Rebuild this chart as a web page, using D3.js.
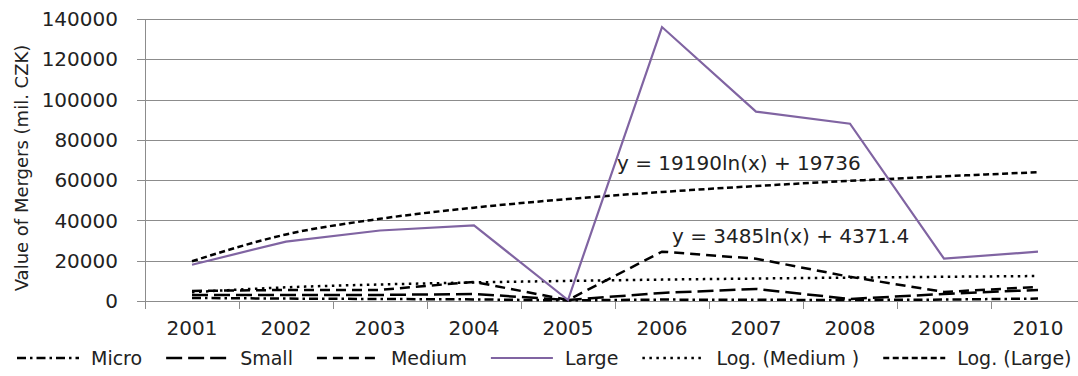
<!DOCTYPE html>
<html><head><meta charset="utf-8">
<script src="https://cdn.jsdelivr.net/npm/d3@7"></script>
<style>
html,body{margin:0;padding:0;background:#fff;}
svg{display:block;font-family:"DejaVu Sans",sans-serif;}
</style></head>
<body><svg id="c" width="1078" height="376"></svg>
<script>
const years = ["2001","2002","2003","2004","2005","2006","2007","2008","2009","2010"];
const micro  = [1500, 1200, 1000, 800, 300, 700, 600, 500, 700, 1200];
const small  = [3000, 3000, 3000, 3500, 500, 4000, 6000, 1000, 3500, 5500];
const medium = [5000, 5500, 5500, 9500, 500, 24500, 21000, 12000, 4500, 7000];
const large  = [18000, 29500, 35000, 37500, 500, 136000, 94000, 88000, 21000, 24500];
const logMedium = [4371, 6787, 8200, 9203, 9980, 10616, 11153, 11618, 12029, 12396];
const logLarge  = [19736, 33037, 40818, 46339, 50621, 54120, 57078, 59641, 61901, 63922];
const yTicks = [0, 20000, 40000, 60000, 80000, 100000, 120000, 140000];
const eqLarge = "y = 19190ln(x) + 19736";
const eqMedium = "y = 3485ln(x) + 4371.4";
const yTitle = "Value of Mergers (mil. CZK)";

const svg = d3.select("#c");
const L = 145, R = 1085, T = 19, B = 301;
const x = d3.scaleBand().domain(years).range([L, R]);
const y = d3.scaleLinear().domain([0, 140000]).range([B, T]);
const grid = "#8c8c8c";
const ink = "#222";

// gridlines
svg.append("g").selectAll("line").data(yTicks).join("line")
  .attr("x1", L - 8).attr("x2", 1078)
  .attr("y1", d => Math.round(y(d)) + 0.5).attr("y2", d => Math.round(y(d)) + 0.5)
  .attr("stroke", grid).attr("stroke-width", 1);
// y axis line
svg.append("line").attr("x1", L + 0.5).attr("x2", L + 0.5).attr("y1", T).attr("y2", B + 0.5)
  .attr("stroke", grid);
// x ticks at band edges
const edges = years.map(d => x(d));
svg.append("g").selectAll("line").data(edges).join("line")
  .attr("x1", d => Math.round(d) + 0.5).attr("x2", d => Math.round(d) + 0.5)
  .attr("y1", B).attr("y2", B + 8).attr("stroke", grid);

// y tick labels
svg.append("g").selectAll("text").data(yTicks).join("text")
  .attr("x", 118).attr("y", d => y(d)).attr("dy", "0.36em")
  .attr("text-anchor", "end").attr("font-size", 20).attr("fill", ink)
  .text(d => d);
// x labels
svg.append("g").selectAll("text").data(years).join("text")
  .attr("x", d => x(d) + x.bandwidth() / 2).attr("y", 328).attr("dy", "0.36em")
  .attr("text-anchor", "middle").attr("font-size", 20).attr("fill", ink)
  .text(d => d);
// y title
svg.append("text").attr("transform", "translate(22,168) rotate(-90)")
  .attr("text-anchor", "middle").attr("dy", "0.36em").attr("font-size", 18).attr("fill", ink)
  .text(yTitle);

const cx = (d, i) => x(years[i]) + x.bandwidth() / 2;
const straight = d3.line().x(cx).y(d => y(d));
const smooth = d3.line().x(cx).y(d => y(d)).curve(d3.curveMonotoneX);

const series = [
  {name: "Micro", data: micro, color: "#000", w: 2.5, dash: "9,4,2.5,4", gen: straight},
  {name: "Small", data: small, color: "#000", w: 2.5, dash: "16,6", gen: straight},
  {name: "Medium", data: medium, color: "#000", w: 2.5, dash: "10,6", gen: straight},
  {name: "Large", data: large, color: "#8064A2", w: 2.2, dash: null, gen: straight},
  {name: "Log. (Medium )", data: logMedium, color: "#000", w: 2.5, dash: "2.5,4.5", gen: smooth},
  {name: "Log. (Large)", data: logLarge, color: "#000", w: 2.5, dash: "6,3.5", gen: smooth}
];
const drawOrder = [4, 5, 0, 1, 2, 3];
drawOrder.forEach(k => {
  const s = series[k];
  svg.append("path").attr("d", s.gen(s.data)).attr("fill", "none")
    .attr("stroke", s.color).attr("stroke-width", s.w)
    .attr("stroke-dasharray", s.dash);
});

// equations
svg.append("text").attr("x", 617).attr("y", 163).attr("dy", "0.36em")
  .attr("font-size", 20).attr("fill", ink).text(eqLarge);
svg.append("text").attr("x", 672).attr("y", 236).attr("dy", "0.36em")
  .attr("font-size", 20).attr("fill", ink).text(eqMedium);

// legend: chained entries
const lg = svg.append("g");
let lx = 17;
series.forEach((s) => {
  const g = lg.append("g").attr("transform", `translate(${lx},358)`);
  g.append("line").attr("x1", 0).attr("x2", 62).attr("y1", 0).attr("y2", 0)
    .attr("stroke", s.color).attr("stroke-width", s.w).attr("stroke-dasharray", s.dash);
  const t = g.append("text").attr("x", 74).attr("dy", "0.36em").attr("font-size", 19)
    .attr("fill", ink).text(s.name);
  lx += 74 + t.node().getComputedTextLength() + 24;
});
</script></body></html>
